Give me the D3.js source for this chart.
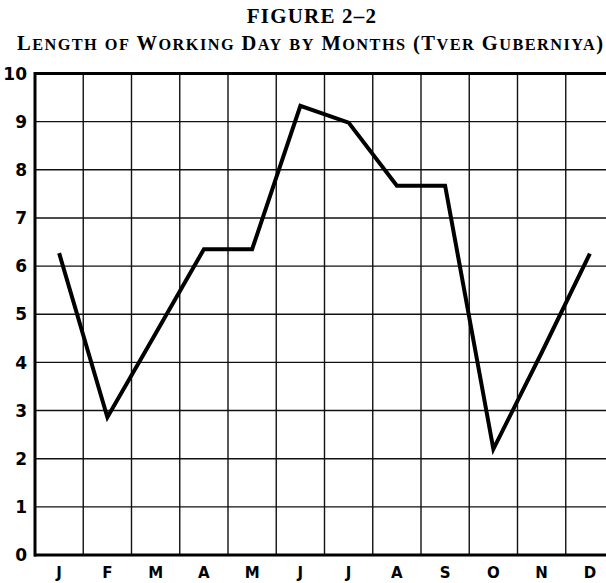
<!DOCTYPE html>
<html>
<head>
<meta charset="utf-8">
<script src="https://cdn.jsdelivr.net/npm/d3@7/dist/d3.min.js"></script>
<style>
  html, body { margin: 0; padding: 0; background: #fff; }
  svg { display: block; }
</style>
</head>
<body>
<script>
// ---- data ----
const months = ["J", "F", "M", "A", "M2", "J2", "J3", "A2", "S", "O", "N", "D"];
const monthLabels = ["J", "F", "M", "A", "M", "J", "J", "A", "S", "O", "N", "D"];
const hours = [6.27, 2.86, 4.6, 6.35, 6.35, 9.33, 8.98, 7.67, 7.67, 2.2, 4.2, 6.26];
const yTicks = [0, 1, 2, 3, 4, 5, 6, 7, 8, 9, 10];
const titleText = "FIGURE 2\u20132";
const subtitleText = "Length of Working Day by Months (Tver Guberniya)";

(function () {
// ---- layout ----
const W = 606, H = 583;
const pLeft = 35, pTop = 73.5, pBottom = 555, cell = 48.25;

const svg = d3.select("body").append("svg").attr("width", W).attr("height", H);

const x = d3.scaleBand().domain(months).range([pLeft, pLeft + cell * months.length]).padding(0);
const y = d3.scaleLinear().domain([0, 10]).range([pBottom, pTop]);

// title
svg.append("text")
  .attr("x", 312).attr("y", 23)
  .attr("text-anchor", "middle")
  .attr("font-family", "Liberation Serif, serif")
  .attr("font-weight", "bold")
  .attr("font-size", 21)
  .attr("letter-spacing", 1.2)
  .text(titleText);

// subtitle in small caps built from runs
const runs = [];
for (const ch of subtitleText) {
  const big = !(ch >= "a" && ch <= "z");
  const last = runs[runs.length - 1];
  if (last && last.big === big) last.t += ch; else runs.push({ big, t: ch });
}
const sub = svg.append("text")
  .attr("x", 17).attr("y", 49.5)
  .attr("font-family", "Liberation Serif, serif")
  .attr("font-weight", "bold")
  .attr("textLength", 586)
  .attr("lengthAdjust", "spacing");
sub.selectAll("tspan").data(runs).join("tspan")
  .attr("font-size", d => d.big ? 20.5 : 16.3)
  .text(d => d.t.toUpperCase());

const g = svg.append("g");

// horizontal grid
g.selectAll("line.h").data(yTicks.filter(d => d > 0 && d < 10)).join("line")
  .attr("class", "h")
  .attr("x1", pLeft).attr("x2", W + 20)
  .attr("y1", d => y(d)).attr("y2", d => y(d))
  .attr("stroke", "#111").attr("stroke-width", 1.4);

// vertical grid
const vx = months.slice(1).map(m => x(m)).concat([x.range()[1]]);
g.selectAll("line.v").data(vx).join("line")
  .attr("class", "v")
  .attr("x1", d => d).attr("x2", d => d)
  .attr("y1", pTop).attr("y2", pBottom)
  .attr("stroke", "#111").attr("stroke-width", 1.4);

// frame: top, bottom, left
g.append("line").attr("x1", pLeft - 1).attr("x2", W + 20).attr("y1", y(10)).attr("y2", y(10))
  .attr("stroke", "#000").attr("stroke-width", 3);
g.append("line").attr("x1", pLeft - 1).attr("x2", W + 20).attr("y1", y(0)).attr("y2", y(0))
  .attr("stroke", "#000").attr("stroke-width", 3);
g.append("line").attr("x1", pLeft).attr("x2", pLeft).attr("y1", y(10) - 1.5).attr("y2", y(0) + 1.5)
  .attr("stroke", "#000").attr("stroke-width", 3);

// y labels
svg.selectAll("text.yl").data(yTicks).join("text")
  .attr("class", "yl")
  .attr("x", 27).attr("y", d => y(d))
  .attr("dy", "0.36em")
  .attr("text-anchor", "end")
  .attr("font-family", "DejaVu Sans, sans-serif")
  .attr("font-weight", "bold")
  .attr("font-size", 17)
  .text(d => d);

// month labels
svg.selectAll("text.ml").data(months).join("text")
  .attr("class", "ml")
  .attr("x", d => x(d) + x.bandwidth() / 2)
  .attr("y", 578)
  .attr("text-anchor", "middle")
  .attr("font-family", "DejaVu Sans, sans-serif")
  .attr("font-weight", "bold")
  .attr("font-size", 15)
  .text((d, i) => monthLabels[i]);

// data line
const line = d3.line()
  .x((d, i) => x(months[i]) + x.bandwidth() / 2)
  .y(d => y(d));
svg.append("path")
  .datum(hours)
  .attr("d", line)
  .attr("fill", "none")
  .attr("stroke", "#000")
  .attr("stroke-width", 4)
  .attr("stroke-linejoin", "miter")
  .attr("stroke-miterlimit", 10);
})();
</script>
</body>
</html>
